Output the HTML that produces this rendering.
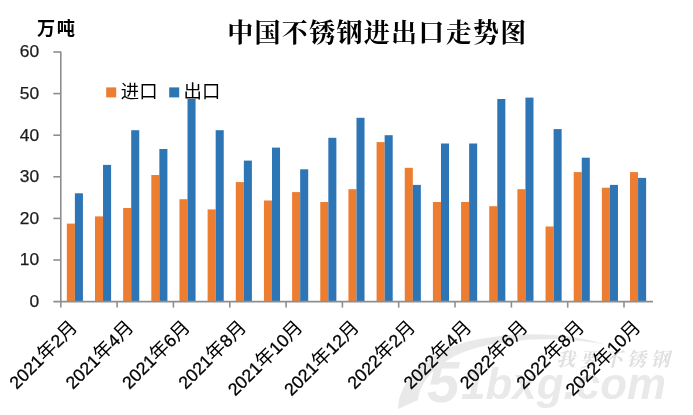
<!DOCTYPE html>
<html lang="zh-CN">
<head>
<meta charset="utf-8">
<title>中国不锈钢进出口走势图</title>
<style>
html,body{margin:0;padding:0;background:#fff;}
body{width:693px;height:415px;overflow:hidden;}
svg{display:block;}
.sans{font-family:"Liberation Sans","Noto Sans CJK SC",sans-serif;}
.serif{font-family:"Liberation Serif","Noto Serif CJK SC",serif;}
</style>
</head>
<body>
<svg width="693" height="415" viewBox="0 0 693 415">
<rect width="693" height="415" fill="#ffffff"/>
<g fill="#e9e9e9" stroke="none">
<path d="M398 409 C398 383 425 352 470 341 C515 331 570 332 606 345 C568 337 518 337 476 348 C440 358 420 380 418 400 Z"/>
<text class="sans" x="427" y="402" font-size="58" font-weight="bold" font-style="italic">5</text>
<text class="sans" x="461" y="399" font-size="44" font-weight="bold" font-style="italic" textLength="205" lengthAdjust="spacingAndGlyphs">1bxg.com</text>
<text class="serif" x="556" y="366" font-size="19" font-style="italic" font-weight="bold" fill="#e0e0e0" letter-spacing="4.6">我要不锈钢</text>
</g>
<g>
<rect x="66.83" y="223.6" width="8.05" height="78.0" fill="#ED7D31"/><rect x="74.88" y="193.3" width="8.05" height="108.3" fill="#2E75B6"/>
<rect x="94.99" y="216.4" width="8.05" height="85.2" fill="#ED7D31"/><rect x="103.04" y="164.9" width="8.05" height="136.7" fill="#2E75B6"/>
<rect x="123.15" y="208.0" width="8.05" height="93.6" fill="#ED7D31"/><rect x="131.20" y="130.2" width="8.05" height="171.4" fill="#2E75B6"/>
<rect x="151.31" y="175.0" width="8.05" height="126.6" fill="#ED7D31"/><rect x="159.36" y="149.0" width="8.05" height="152.6" fill="#2E75B6"/>
<rect x="179.47" y="199.2" width="8.05" height="102.4" fill="#ED7D31"/><rect x="187.52" y="99.0" width="8.05" height="202.6" fill="#2E75B6"/>
<rect x="207.63" y="209.4" width="8.05" height="92.2" fill="#ED7D31"/><rect x="215.68" y="130.2" width="8.05" height="171.4" fill="#2E75B6"/>
<rect x="235.79" y="182.1" width="8.05" height="119.5" fill="#ED7D31"/><rect x="243.84" y="160.6" width="8.05" height="141.0" fill="#2E75B6"/>
<rect x="263.95" y="200.5" width="8.05" height="101.1" fill="#ED7D31"/><rect x="272.00" y="147.6" width="8.05" height="154.0" fill="#2E75B6"/>
<rect x="292.11" y="192.1" width="8.05" height="109.5" fill="#ED7D31"/><rect x="300.16" y="169.3" width="8.05" height="132.3" fill="#2E75B6"/>
<rect x="320.27" y="202.0" width="8.05" height="99.6" fill="#ED7D31"/><rect x="328.32" y="137.8" width="8.05" height="163.8" fill="#2E75B6"/>
<rect x="348.43" y="189.2" width="8.05" height="112.4" fill="#ED7D31"/><rect x="356.48" y="117.8" width="8.05" height="183.8" fill="#2E75B6"/>
<rect x="376.59" y="142.1" width="8.05" height="159.5" fill="#ED7D31"/><rect x="384.64" y="135.2" width="8.05" height="166.4" fill="#2E75B6"/>
<rect x="404.75" y="167.8" width="8.05" height="133.8" fill="#ED7D31"/><rect x="412.80" y="184.9" width="8.05" height="116.7" fill="#2E75B6"/>
<rect x="432.91" y="202.0" width="8.05" height="99.6" fill="#ED7D31"/><rect x="440.96" y="143.5" width="8.05" height="158.1" fill="#2E75B6"/>
<rect x="461.07" y="202.0" width="8.05" height="99.6" fill="#ED7D31"/><rect x="469.12" y="143.5" width="8.05" height="158.1" fill="#2E75B6"/>
<rect x="489.23" y="206.2" width="8.05" height="95.4" fill="#ED7D31"/><rect x="497.28" y="99.0" width="8.05" height="202.6" fill="#2E75B6"/>
<rect x="517.39" y="189.2" width="8.05" height="112.4" fill="#ED7D31"/><rect x="525.44" y="97.6" width="8.05" height="204.0" fill="#2E75B6"/>
<rect x="545.55" y="226.5" width="8.05" height="75.1" fill="#ED7D31"/><rect x="553.60" y="129.1" width="8.05" height="172.5" fill="#2E75B6"/>
<rect x="573.71" y="172.1" width="8.05" height="129.5" fill="#ED7D31"/><rect x="581.76" y="157.7" width="8.05" height="143.9" fill="#2E75B6"/>
<rect x="601.87" y="187.7" width="8.05" height="113.9" fill="#ED7D31"/><rect x="609.92" y="184.9" width="8.05" height="116.7" fill="#2E75B6"/>
<rect x="630.03" y="172.1" width="8.05" height="129.5" fill="#ED7D31"/><rect x="638.08" y="177.9" width="8.05" height="123.7" fill="#2E75B6"/>
</g>
<g stroke="#8e8e8e" stroke-width="1.6" fill="none">
<line x1="60.8" y1="51.5" x2="60.8" y2="302.20000000000005"/>
<line x1="53.3" y1="301.6" x2="653.0" y2="301.6"/>
<line x1="53.3" y1="260.0" x2="60.8" y2="260.0"/>
<line x1="53.3" y1="218.4" x2="60.8" y2="218.4"/>
<line x1="53.3" y1="176.8" x2="60.8" y2="176.8"/>
<line x1="53.3" y1="135.2" x2="60.8" y2="135.2"/>
<line x1="53.3" y1="93.6" x2="60.8" y2="93.6"/>
<line x1="53.3" y1="52.0" x2="60.8" y2="52.0"/>
<line x1="60.8" y1="301.6" x2="60.8" y2="307.6"/>
<line x1="117.1" y1="301.6" x2="117.1" y2="307.6"/>
<line x1="173.4" y1="301.6" x2="173.4" y2="307.6"/>
<line x1="229.8" y1="301.6" x2="229.8" y2="307.6"/>
<line x1="286.1" y1="301.6" x2="286.1" y2="307.6"/>
<line x1="342.4" y1="301.6" x2="342.4" y2="307.6"/>
<line x1="398.7" y1="301.6" x2="398.7" y2="307.6"/>
<line x1="455.0" y1="301.6" x2="455.0" y2="307.6"/>
<line x1="511.4" y1="301.6" x2="511.4" y2="307.6"/>
<line x1="567.7" y1="301.6" x2="567.7" y2="307.6"/>
<line x1="624.0" y1="301.6" x2="624.0" y2="307.6"/>
</g>
<g class="sans" font-size="17.4" fill="#1c1c1c" stroke="#1c1c1c" stroke-width="0.25" text-anchor="end">
<text x="39.2" y="306.9">0</text>
<text x="39.2" y="265.3">10</text>
<text x="39.2" y="223.7">20</text>
<text x="39.2" y="182.1">30</text>
<text x="39.2" y="140.5">40</text>
<text x="39.2" y="98.9">50</text>
<text x="39.2" y="57.3">60</text>
</g>
<text class="sans" x="36.9" y="34.7" font-size="18.2" letter-spacing="1.7" font-weight="bold" fill="#000">万吨</text>
<text class="serif" x="377.4" y="41.5" font-size="26.0" letter-spacing="1.3" font-weight="bold" fill="#000" text-anchor="middle">中国不锈钢进出口走势图</text>
<rect x="106.2" y="87.4" width="10" height="10" fill="#ED7D31"/>
<text class="sans" x="120.8" y="97.6" font-size="18.4" fill="#000">进口</text>
<rect x="169.2" y="87.4" width="10" height="10" fill="#2E75B6"/>
<text class="sans" x="183.6" y="97.6" font-size="18.4" fill="#000">出口</text>
<g class="sans" font-size="19.0" fill="#000" text-anchor="end">
<text transform="translate(78.5,328.2) rotate(-45)" x="0" y="0"><tspan font-size="17.7" stroke="#000" stroke-width="0.3">2021</tspan><tspan font-size="19.0" >年</tspan><tspan font-size="17.7" stroke="#000" stroke-width="0.3">2</tspan><tspan font-size="19.0" >月</tspan></text>
<text transform="translate(134.8,328.2) rotate(-45)" x="0" y="0"><tspan font-size="17.7" stroke="#000" stroke-width="0.3">2021</tspan><tspan font-size="19.0" >年</tspan><tspan font-size="17.7" stroke="#000" stroke-width="0.3">4</tspan><tspan font-size="19.0" >月</tspan></text>
<text transform="translate(191.1,328.2) rotate(-45)" x="0" y="0"><tspan font-size="17.7" stroke="#000" stroke-width="0.3">2021</tspan><tspan font-size="19.0" >年</tspan><tspan font-size="17.7" stroke="#000" stroke-width="0.3">6</tspan><tspan font-size="19.0" >月</tspan></text>
<text transform="translate(247.4,328.2) rotate(-45)" x="0" y="0"><tspan font-size="17.7" stroke="#000" stroke-width="0.3">2021</tspan><tspan font-size="19.0" >年</tspan><tspan font-size="17.7" stroke="#000" stroke-width="0.3">8</tspan><tspan font-size="19.0" >月</tspan></text>
<text transform="translate(303.8,328.2) rotate(-45)" x="0" y="0"><tspan font-size="17.7" stroke="#000" stroke-width="0.3">2021</tspan><tspan font-size="19.0" >年</tspan><tspan font-size="17.7" stroke="#000" stroke-width="0.3">10</tspan><tspan font-size="19.0" >月</tspan></text>
<text transform="translate(360.1,328.2) rotate(-45)" x="0" y="0"><tspan font-size="17.7" stroke="#000" stroke-width="0.3">2021</tspan><tspan font-size="19.0" >年</tspan><tspan font-size="17.7" stroke="#000" stroke-width="0.3">12</tspan><tspan font-size="19.0" >月</tspan></text>
<text transform="translate(416.4,328.2) rotate(-45)" x="0" y="0"><tspan font-size="17.7" stroke="#000" stroke-width="0.3">2022</tspan><tspan font-size="19.0" >年</tspan><tspan font-size="17.7" stroke="#000" stroke-width="0.3">2</tspan><tspan font-size="19.0" >月</tspan></text>
<text transform="translate(472.7,328.2) rotate(-45)" x="0" y="0"><tspan font-size="17.7" stroke="#000" stroke-width="0.3">2022</tspan><tspan font-size="19.0" >年</tspan><tspan font-size="17.7" stroke="#000" stroke-width="0.3">4</tspan><tspan font-size="19.0" >月</tspan></text>
<text transform="translate(529.0,328.2) rotate(-45)" x="0" y="0"><tspan font-size="17.7" stroke="#000" stroke-width="0.3">2022</tspan><tspan font-size="19.0" >年</tspan><tspan font-size="17.7" stroke="#000" stroke-width="0.3">6</tspan><tspan font-size="19.0" >月</tspan></text>
<text transform="translate(585.4,328.2) rotate(-45)" x="0" y="0"><tspan font-size="17.7" stroke="#000" stroke-width="0.3">2022</tspan><tspan font-size="19.0" >年</tspan><tspan font-size="17.7" stroke="#000" stroke-width="0.3">8</tspan><tspan font-size="19.0" >月</tspan></text>
<text transform="translate(641.7,328.2) rotate(-45)" x="0" y="0"><tspan font-size="17.7" stroke="#000" stroke-width="0.3">2022</tspan><tspan font-size="19.0" >年</tspan><tspan font-size="17.7" stroke="#000" stroke-width="0.3">10</tspan><tspan font-size="19.0" >月</tspan></text>
</g>
</svg>
</body>
</html>
